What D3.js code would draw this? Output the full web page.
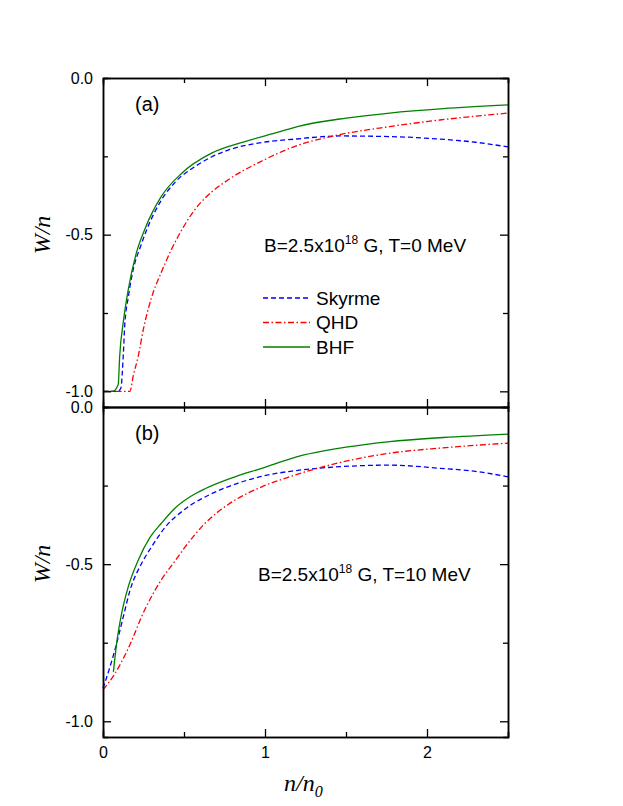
<!DOCTYPE html>
<html>
<head>
<meta charset="utf-8">
<script src="https://cdn.jsdelivr.net/npm/d3@7"></script>
<style>
  body { margin: 0; background: #fff; }
  svg { display: block; }
</style>
</head>
<body>
<div id="chart"></div>
<script>
// W/n vs n/n0, panel (a) T=0 MeV, panel (b) T=10 MeV
const skyrmeA = [[0,-1],[0.09,-1],[0.11,-0.99],[0.126,-0.877],[0.134,-0.79],[0.156,-0.70],[0.187,-0.61],[0.23,-0.54],[0.27,-0.484],[0.36,-0.39],[0.45,-0.33],[0.567,-0.283],[0.67,-0.252],[0.773,-0.23],[0.98,-0.206],[1.185,-0.195],[1.46,-0.185],[1.77,-0.187],[2.08,-0.195],[2.3,-0.205],[2.5,-0.22]];
const qhdA = [[0,-1],[0.166,-1],[0.187,-0.95],[0.218,-0.887],[0.25,-0.80],[0.30,-0.70],[0.36,-0.62],[0.42,-0.55],[0.486,-0.485],[0.567,-0.42],[0.64,-0.378],[0.773,-0.325],[0.98,-0.265],[1.185,-0.218],[1.44,-0.183],[1.77,-0.155],[2.08,-0.134],[2.5,-0.112]];
const bhfA = [[0,-1],[0.06,-1],[0.094,-0.978],[0.103,-0.887],[0.125,-0.78],[0.156,-0.675],[0.206,-0.558],[0.257,-0.484],[0.36,-0.378],[0.486,-0.304],[0.67,-0.24],[0.876,-0.203],[1.08,-0.173],[1.2,-0.155],[1.5,-0.128],[1.77,-0.112],[2.1,-0.098],[2.5,-0.086]];

const skyrmeB = [[0,-0.895],[0.043,-0.827],[0.084,-0.753],[0.125,-0.668],[0.167,-0.583],[0.238,-0.498],[0.3,-0.445],[0.383,-0.383],[0.506,-0.325],[0.67,-0.276],[0.835,-0.242],[1.02,-0.216],[1.165,-0.204],[1.46,-0.19],[1.77,-0.185],[2.08,-0.195],[2.3,-0.205],[2.5,-0.222]];
const qhdB = [[0,-0.9],[0.074,-0.848],[0.156,-0.768],[0.257,-0.646],[0.36,-0.55],[0.444,-0.49],[0.5,-0.45],[0.63,-0.37],[0.773,-0.31],[0.98,-0.254],[1.165,-0.22],[1.36,-0.19],[1.77,-0.147],[2.1,-0.13],[2.5,-0.115]];
const bhfB = [[0.064,-0.843],[0.084,-0.753],[0.115,-0.657],[0.156,-0.572],[0.218,-0.487],[0.29,-0.415],[0.36,-0.37],[0.444,-0.322],[0.54,-0.285],[0.63,-0.26],[0.815,-0.222],[0.98,-0.195],[1.185,-0.16],[1.5,-0.128],[1.77,-0.11],[2.1,-0.097],[2.5,-0.086]];

const seriesNames = ["Skyrme", "QHD", "BHF"];
const xTicks = [0, 1, 2], xTickLabels = ["0", "1", "2"];
const xMinor = [0.5, 1.5, 2.5];
const yTicks = [0, -0.5, -1], yTickLabels = ["0.0", "-0.5", "-1.0"];
const yMinor = [-0.25, -0.75];

const colors = {Skyrme: "#0000ff", QHD: "#ff0000", BHF: "#008000"};
const dashes = {Skyrme: "5,3", QHD: "6,2.5,1.5,2.5", BHF: null};
const FONT = "'Liberation Sans', Arial, sans-serif";
const SERIF = "'Liberation Serif', 'Times New Roman', serif";

const width = 623, height = 806;
const svg = d3.select("#chart").append("svg")
    .attr("width", width).attr("height", height);

const x = d3.scaleLinear().domain([0, 2.5]).range([103, 508]);

const panels = [
  {label: "(a)", top: 78, bottom: 407, data: [skyrmeA, qhdA, bhfA], note: "0", showX: false},
  {label: "(b)", top: 407, bottom: 737, data: [skyrmeB, qhdB, bhfB], note: "10", showX: true}
];

panels.forEach(function(p, pi) {
  const y = d3.scaleLinear().domain([-1.05, 0]).range([p.bottom, p.top]);
  const g = svg.append("g");

  const line = d3.line()
      .x(function(d) { return x(d[0]); })
      .y(function(d) { return y(d[1]); })
      .curve(d3.curveMonotoneX);

  // curves
  p.data.forEach(function(d, i) {
    const name = seriesNames[i];
    g.append("path")
        .datum(d)
        .attr("fill", "none")
        .attr("stroke", colors[name])
        .attr("stroke-width", 1.3)
        .attr("stroke-dasharray", dashes[name])
        .attr("d", line);
  });

  // axes, ticks inward
  g.append("g").attr("transform", "translate(" + x(0) + ",0)")
      .call(d3.axisLeft(y).tickValues(yTicks).tickSizeInner(-8).tickSizeOuter(0).tickPadding(10)
        .tickFormat(function(d, i) { return yTickLabels[i]; }));
  g.append("g").attr("transform", "translate(" + x(0) + ",0)")
      .call(d3.axisLeft(y).tickValues(yMinor).tickSize(-5).tickFormat(""));
  g.append("g").attr("transform", "translate(" + x(2.5) + ",0)")
      .call(d3.axisRight(y).tickValues(yTicks).tickSizeInner(-8).tickSizeOuter(0).tickFormat(""));
  g.append("g").attr("transform", "translate(" + x(2.5) + ",0)")
      .call(d3.axisRight(y).tickValues(yMinor).tickSize(-5).tickFormat(""));

  g.append("g").attr("transform", "translate(0," + p.bottom + ")")
      .call(d3.axisBottom(x).tickValues(xTicks).tickSizeInner(-8).tickSizeOuter(0).tickPadding(10)
        .tickFormat(function(d, i) { return p.showX ? xTickLabels[i] : ""; }));
  g.append("g").attr("transform", "translate(0," + p.bottom + ")")
      .call(d3.axisBottom(x).tickValues(xMinor).tickSize(-5).tickFormat(""));
  g.append("g").attr("transform", "translate(0," + p.top + ")")
      .call(d3.axisTop(x).tickValues(xTicks).tickSizeInner(-8).tickSizeOuter(0).tickFormat(""));
  g.append("g").attr("transform", "translate(0," + p.top + ")")
      .call(d3.axisTop(x).tickValues(xMinor).tickSize(-5).tickFormat(""));

  g.selectAll(".domain").attr("stroke", "#000").attr("stroke-width", 1.5);
  g.selectAll(".tick line").attr("stroke", "#000").attr("stroke-width", 1.3);
  g.selectAll(".tick text").attr("fill", "#000").style("font-family", FONT).style("font-size", "16px");

  // panel label
  g.append("text")
      .attr("x", 135).attr("y", p.top + 33)
      .style("font-family", FONT).style("font-size", "20px")
      .text(p.label);

  // condition note
  const note = g.append("text")
      .attr("x", pi === 0 ? 264 : 258).attr("y", p.top + 174)
      .style("font-family", FONT).style("font-size", "19px");
  note.append("tspan").text("B=2.5x10");
  note.append("tspan").attr("dy", -8).style("font-size", "12px").text("18");
  note.append("tspan").attr("dy", 8).text(" G, T=" + p.note + " MeV");

  // y label
  g.append("text")
      .attr("transform", "translate(50," + (p.top + 157) + ") rotate(-90)")
      .attr("text-anchor", "middle")
      .style("font-family", SERIF).style("font-style", "italic").style("font-size", "24px")
      .text("W/n");
});

// legend in panel (a)
const legend = svg.selectAll(".legend")
    .data(seriesNames)
    .enter().append("g")
    .attr("class", "legend")
    .attr("transform", function(d, i) { return "translate(263," + (298 + i * 24.5) + ")"; });

legend.append("line")
    .attr("x1", 0).attr("x2", 47)
    .attr("stroke", function(d) { return colors[d]; })
    .attr("stroke-width", 1.3)
    .attr("stroke-dasharray", function(d) { return dashes[d]; });

legend.append("text")
    .attr("x", 53).attr("y", 6.5)
    .style("font-family", FONT).style("font-size", "19px")
    .text(function(d) { return d; });

// x-axis title
const xt = svg.append("text")
    .attr("x", 284).attr("y", 791)
    .style("font-family", SERIF).style("font-style", "italic").style("font-size", "24px");
xt.append("tspan").text("n/n");
xt.append("tspan").attr("dy", 6).style("font-size", "16px").text("0");
</script>
</body>
</html>
